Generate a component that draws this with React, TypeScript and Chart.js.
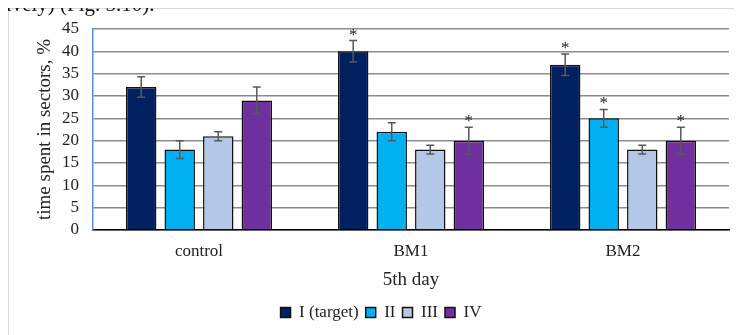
import React, { useEffect, useRef } from "react";
import { Chart, registerables } from "chart.js";

Chart.register(...registerables);

const categories = ["control", "BM1", "BM2"];
const seriesNames = ["I (target)", "II", "III", "IV"];
const seriesI = [32, 40, 37];
const seriesII = [18, 22, 25];
const seriesIII = [21, 18, 18];
const seriesIV = [29, 20, 20];
const errI = [2.3, 2.4, 2.4];
const errII = [2, 2, 2];
const errIII = [1, 1, 1];
const errIV = [3, 3, 3];
const starI = [false, true, true];
const starII = [false, false, true];
const starIII = [false, false, false];
const starIV = [false, true, true];
const yMin = 0;
const yMax = 45;
const yStep = 5;
const xTitle = "5th day";
const yTitle = "time spent in sectors, %";
const captionText = "tively) (Fig. 5.10).";

const seriesValues = [seriesI, seriesII, seriesIII, seriesIV];
const seriesErrors = [errI, errII, errIII, errIV];
const seriesStars = [starI, starII, starIII, starIV];
const seriesColors = ["#002060", "#00B0F0", "#B4C7E7", "#7030A0"];

const FONT = "'Liberation Serif', 'Times New Roman', serif";

const errorBarPlugin = {
  id: "errorBars",
  afterDatasetsDraw(chart: any) {
    const ctx = chart.ctx;
    const yScale = chart.scales.y;
    ctx.save();
    chart.data.datasets.forEach((ds: any, di: number) => {
      const meta = chart.getDatasetMeta(di);
      if (meta.hidden) return;
      meta.data.forEach((bar: any, i: number) => {
        const v = ds.data[i];
        const e = ds.errors[i];
        const x = bar.x;
        const yTop = yScale.getPixelForValue(v + e);
        const yBot = yScale.getPixelForValue(v - e);
        ctx.strokeStyle = "#595959";
        ctx.lineWidth = 1.5;
        ctx.beginPath();
        ctx.moveTo(x, yTop);
        ctx.lineTo(x, yBot);
        ctx.moveTo(x - 4, yTop);
        ctx.lineTo(x + 4, yTop);
        ctx.moveTo(x - 4, yBot);
        ctx.lineTo(x + 4, yBot);
        ctx.stroke();
        if (ds.stars[i]) {
          ctx.fillStyle = "#222";
          ctx.font = `17px ${FONT}`;
          ctx.textAlign = "center";
          ctx.textBaseline = "alphabetic";
          ctx.fillText("*", x, yTop - 1);
        }
      });
    });
    ctx.restore();
  },
};

export default function App() {
  const canvasRef = useRef<HTMLCanvasElement>(null);

  useEffect(() => {
    if (!canvasRef.current) return;
    const chart = new Chart(canvasRef.current, {
      type: "bar",
      data: {
        labels: categories,
        datasets: seriesNames.map((name, k) => ({
          label: name,
          data: seriesValues[k],
          errors: seriesErrors[k],
          stars: seriesStars[k],
          backgroundColor: seriesColors[k],
          borderColor: "#111111",
          borderWidth: 1.5,
          categoryPercentage: 0.727,
          barPercentage: 0.79,
        })) as any,
      },
      options: {
        animation: false,
        responsive: false,
        maintainAspectRatio: false,
        layout: { padding: { left: 33, right: 13, top: 29, bottom: 4 } },
        font: { family: FONT },
        plugins: {
          tooltip: { enabled: false },
          legend: {
            position: "bottom",
            labels: {
              font: { family: FONT, size: 17 },
              color: "#222",
              boxWidth: 10,
              boxHeight: 10,
              padding: 7,
            },
          },
        },
        scales: {
          x: {
            grid: { display: false, drawTicks: false },
            border: { display: true, color: "#000000", width: 1.5 },
            ticks: { font: { family: FONT, size: 17 }, color: "#222", padding: 11 },
            title: {
              display: true,
              text: xTitle,
              font: { family: FONT, size: 19 },
              color: "#222",
              padding: { top: 0, bottom: 6 },
            },
            afterFit: (s: any) => {
              s.height = 67;
            },
          },
          y: {
            min: yMin,
            max: yMax,
            ticks: {
              stepSize: yStep,
              autoSkip: false,
              maxTicksLimit: 20,
              font: { family: FONT, size: 17, lineHeight: 1 },
              color: "#222",
              padding: 14,
            },
            grid: { color: "#8c8c8c", lineWidth: 1.5, drawTicks: false },
            border: { display: true, color: "#5B8BD6", width: 1.5 },
            title: {
              display: true,
              text: yTitle,
              font: { family: FONT, size: 19 },
              color: "#222",
              padding: { top: 1, bottom: 0 },
            },
            afterFit: (s: any) => {
              s.width = 60;
            },
          },
        },
      },
      plugins: [errorBarPlugin],
    } as any);
    return () => chart.destroy();
  }, []);

  return (
    <div
      style={{
        position: "relative",
        marginLeft: -8,
        marginTop: -8,
        width: 742,
        height: 335,
        overflow: "hidden",
        background: "#ffffff",
      }}
    >
      <div
        style={{
          position: "absolute",
          left: 0,
          top: -6,
          fontFamily: FONT,
          fontSize: 21,
          lineHeight: "20px",
          color: "#111111",
          whiteSpace: "nowrap",
          zIndex: 2,
        }}
      >
        {captionText}
      </div>
      <div
        style={{
          position: "absolute",
          left: 8,
          top: 8,
          width: 760,
          height: 400,
          borderTop: "1px solid #d9d9d9",
          borderLeft: "1px solid #d9d9d9",
        }}
      />
      <canvas
        ref={canvasRef}
        width={742}
        height={335}
        style={{ position: "absolute", left: 0, top: 0, width: 742, height: 335 }}
      />
    </div>
  );
}
